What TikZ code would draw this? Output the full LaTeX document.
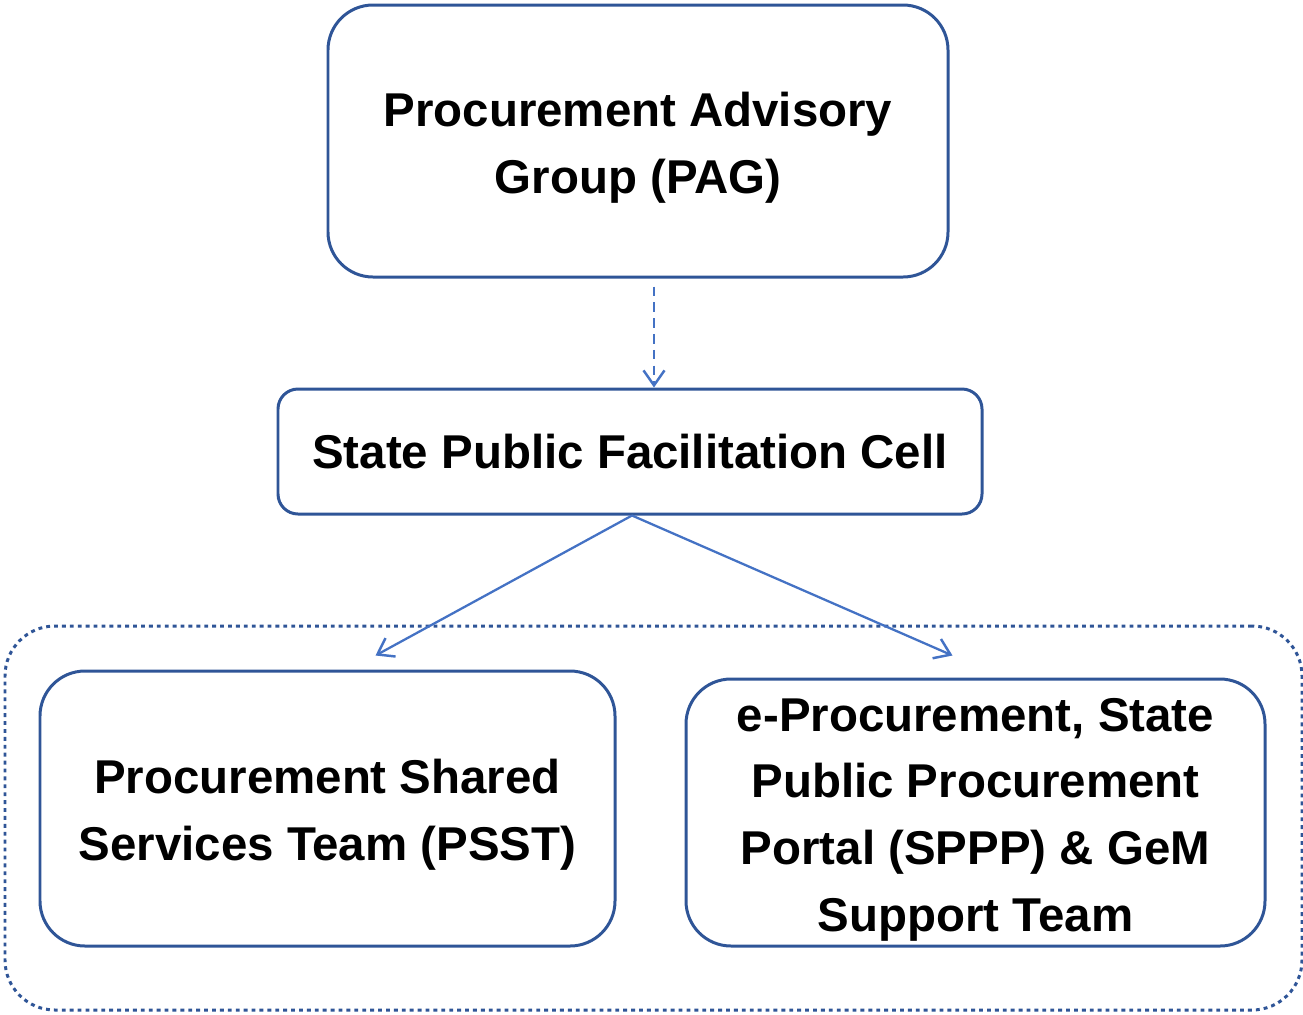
\documentclass[tikz,border=0pt]{standalone}
\usepackage{fontspec}
\setmainfont{Liberation Sans}
\usepackage{xcolor}
\usetikzlibrary{positioning,arrows.meta}
\definecolor{boxblue}{HTML}{2F5597}
\definecolor{linkblue}{HTML}{4472C4}
\newcommand{\toppad}{\rule{0pt}{27pt}}
\tikzset{%
unit/.style={draw=boxblue,line width=1.7pt,rounded corners=0.9cm,align=center,font=\bfseries\fontsize{27}{38}\selectfont,inner sep=0pt},
cell/.style={unit,rounded corners=0.4cm},
group/.style={draw=boxblue,line width=1.7pt,dash pattern=on 2.2pt off 2.3pt,rounded corners=1cm,inner sep=0pt},
link/.style={draw=linkblue,line width=1.3pt,-{Straight Barb[length=0.3cm,width=0.42cm,line width=1.4pt]}},
dashlink/.style={link,line width=1.5pt,dash pattern=on 5.5pt off 3.5pt}
}

\begin{document}
\begin{tikzpicture}

  \useasboundingbox (0,0) rectangle (26.06,-20.28);

  \node[group,minimum width=25.94cm,minimum height=7.68cm] (team) at (13.07,-16.36) {};

  \node[unit,minimum width=12.4cm,minimum height=5.44cm] (pag) at (12.76,-2.82)
    {\toppad Procurement Advisory\\Group (PAG)};
  \node[cell,minimum width=14.08cm,minimum height=2.5cm] (spfc) at (12.6,-9.03)
    {State Public Facilitation Cell};
  \node[unit,minimum width=11.5cm,minimum height=5.5cm] (psst) at (6.55,-16.17)
    {\toppad Procurement Shared\\Services Team (PSST)};
  \node[unit,minimum width=11.58cm,minimum height=5.34cm] (sppp) at (19.51,-16.25)
    {\toppad e-Procurement, State\\Public Procurement\\Portal (SPPP) \& GeM\\Support Team};

  \coordinate (psstin) at ([xshift=0.96cm,yshift=0.28cm]psst.north);
  \coordinate (spppin) at ([xshift=-0.46cm,yshift=0.44cm]sppp.north);

  \draw[dashlink] ([xshift=0.32cm,yshift=-0.16cm]pag.south) -- ([xshift=0.48cm]spfc.north);
  \draw[link] ([xshift=0.04cm]spfc.south) -- (psstin);
  \draw[link] ([xshift=0.04cm]spfc.south) -- (spppin);

\end{tikzpicture}
\end{document}
